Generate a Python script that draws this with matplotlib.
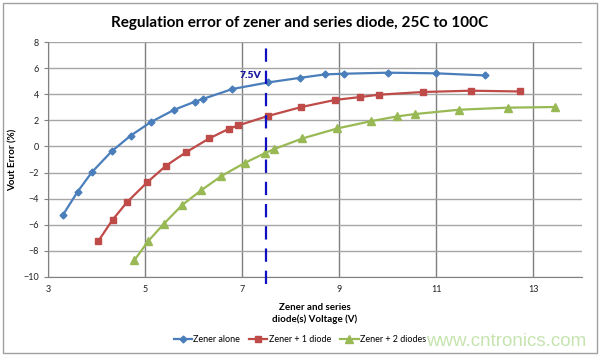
"""regulation error of zener and series diodes, 25C to 100C"""

import matplotlib
matplotlib.use("Agg")
import matplotlib.pyplot as plt
from matplotlib.patches import Rectangle

# zener alone
zener_v = [3.31, 3.61, 3.90, 4.31, 4.70, 5.12, 5.60, 6.02, 6.20, 6.80, 7.53,
           8.20, 8.71, 9.09, 10.0, 11.0, 12.0]
zener_err = [-5.23, -3.47, -1.99, -0.38, 0.82, 1.87, 2.81, 3.42, 3.65, 4.40,
             4.90, 5.26, 5.52, 5.57, 5.65, 5.60, 5.44]

# zener + 1 diode
one_v = [4.04, 4.33, 4.63, 5.04, 5.43, 5.85, 6.32, 6.73, 6.92, 7.53, 8.22,
         8.91, 9.42, 9.81, 10.72, 11.71, 12.72]
one_err = [-7.23, -5.62, -4.26, -2.76, -1.48, -0.43, 0.61, 1.36, 1.61, 2.33,
           3.02, 3.56, 3.78, 3.96, 4.17, 4.27, 4.21]

# zener + 2 diodes
two_v = [4.78, 5.07, 5.38, 5.77, 6.16, 6.57, 7.05, 7.46, 7.66, 8.24, 8.96,
         9.66, 10.19, 10.56, 11.46, 12.47, 13.45]
two_err = [-8.71, -7.23, -5.95, -4.47, -3.35, -2.27, -1.27, -0.53, -0.20,
           0.61, 1.38, 1.94, 2.30, 2.48, 2.81, 2.97, 3.02]

x_ticks = [3, 5, 7, 9, 11, 13]
y_ticks = [-10, -8, -6, -4, -2, 0, 2, 4, 6, 8]
marker_v = 7.5

FONT = ["Lato", "DejaVu Sans"]
plt.rcParams['font.family'] = FONT

fig = plt.figure(figsize=(6.0, 3.56), dpi=100)
ax = fig.add_axes([0.08, 0.222, 0.89, 0.66])

# chart border
fig.patches.append(Rectangle((0.005, 0.008), 0.99, 0.984, transform=fig.transFigure,
                             fill=False, edgecolor='#a0a0a0', linewidth=1.0))

ax.plot(zener_v, zener_err, color='#4a7ebb', linewidth=1.6, marker='D',
        markersize=3.5, label='Zener alone')
ax.plot(one_v, one_err, color='#be4b48', linewidth=1.6, marker='s',
        markersize=5, label='Zener + 1 diode')
ax.plot(two_v, two_err, color='#98b954', linewidth=1.6, marker='^',
        markersize=5.5, label='Zener + 2 diodes')

ax.axvline(marker_v, ymin=-0.03, ymax=1.01, color='#1010c0', linestyle=(0, (6, 4)),
           linewidth=1.6, clip_on=False, zorder=5)
ax.text(marker_v - 0.1, 5.45, '7.5V', color='#1a1aa0', fontsize=7.5,
        fontweight='heavy', ha='right', va='center')

ax.set_xlim(3, 14)
ax.set_ylim(-10, 8)
ax.set_xticks(x_ticks)
ax.set_yticks(y_ticks)
ax.tick_params(axis='both', labelsize=6.5, colors='#222222', length=3,
               color='#808080')
ax.tick_params(axis='x', length=0, pad=6)
ax.grid(True, axis='y', color='#a6a6a6', linewidth=1.0)
ax.grid(True, axis='x', color='#7f7f7f', linewidth=1.0)
ax.set_axisbelow(True)
for side in ['top', 'right']:
    ax.spines[side].set_visible(False)
for side in ['left', 'bottom']:
    ax.spines[side].set_color('#808080')

fig.suptitle('Regulation error of zener and series diode, 25C to 100C',
             x=0.5, y=0.955, fontsize=11, fontweight='bold')
ax.set_ylabel('Vout Error (%)', fontsize=7, fontweight='bold', labelpad=4)
ax.set_xlabel('Zener and series\ndiode(s) Voltage (V)', fontsize=7,
              fontweight='bold', labelpad=6, linespacing=1.4)

fig.legend(loc='center', bbox_to_anchor=(0.5, 0.045), ncol=3, frameon=False,
           fontsize=6.5, handlelength=2.0, handletextpad=0.2, columnspacing=1.0,
           markerscale=1.0)

fig.text(0.71, 0.04, 'www.cntronics.com', color='#c6e4b0', fontsize=13.5,
         family='Liberation Sans', ha='left', va='center')

fig.savefig('out.png', dpi=100)
